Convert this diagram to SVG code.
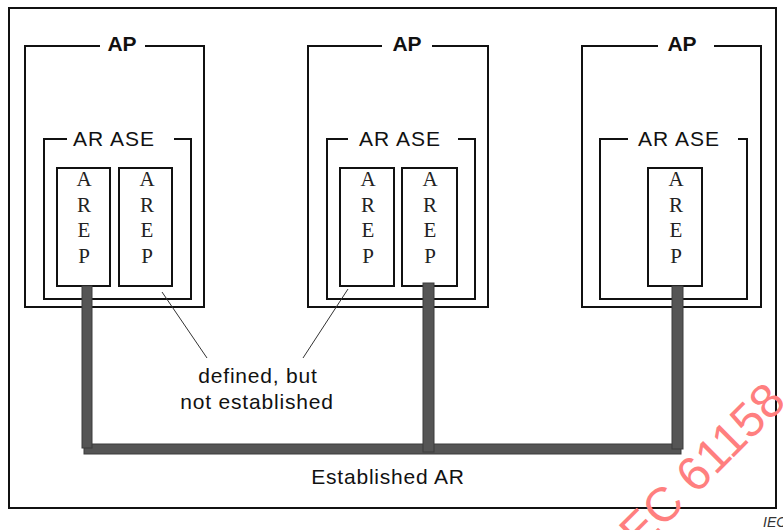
<svg xmlns="http://www.w3.org/2000/svg" width="783" height="530" viewBox="0 0 783 530">
<defs>
<style>
.frame{fill:none;stroke:#111;stroke-width:2}
.box{fill:#fff;stroke:#111;stroke-width:2}
.ln{stroke:#111;stroke-width:2;fill:none}
.ap{font-family:"Liberation Sans",Arial,sans-serif;font-weight:bold;font-size:21px;fill:#111;text-anchor:middle}
.ase{font-family:"Liberation Sans",Arial,sans-serif;font-size:21px;letter-spacing:1px;fill:#111;text-anchor:middle}
.arep{font-family:"Liberation Serif","Times New Roman",serif;font-size:21px;fill:#222;text-anchor:middle}
.lbl{font-family:"Liberation Sans",Arial,sans-serif;font-size:21px;letter-spacing:0.8px;fill:#111;text-anchor:middle}
.bar{fill:#555;stroke:#3c3c3c;stroke-width:1}
.lead{stroke:#333;stroke-width:1;fill:none}
</style>
</defs>
<rect x="0" y="0" width="783" height="530" fill="#fff"/>
<rect class="frame" x="9" y="8" width="767" height="500"/>

<g id="ap1">
<path class="ln" d="M100,46 H25 V307 H204 V46 H145"/>
<text class="ap" x="122" y="51">AP</text>
<g id="arase1">
<path class="ln" d="M67,139 H44 V299 H191 V139 H174"/>
<text class="ase" x="114" y="146">AR ASE</text>
</g>
<g id="arep1a">
<rect class="box" x="57" y="168" width="53" height="118"/>
<text class="arep"><tspan x="84" y="186">A</tspan><tspan x="84" y="212">R</tspan><tspan x="84" y="237">E</tspan><tspan x="84" y="263">P</tspan></text>
</g>
<g id="arep1b">
<rect class="box" x="119" y="168" width="53" height="118"/>
<text class="arep"><tspan x="147" y="186">A</tspan><tspan x="147" y="212">R</tspan><tspan x="147" y="237">E</tspan><tspan x="147" y="263">P</tspan></text>
</g>
</g>

<g id="ap2">
<path class="ln" d="M382,46 H308 V307 H488 V46 H432"/>
<text class="ap" x="407" y="51">AP</text>
<g id="arase2">
<path class="ln" d="M348,139 H327 V299 H475 V139 H458"/>
<text class="ase" x="400" y="146">AR ASE</text>
</g>
<g id="arep2a">
<rect class="box" x="340" y="168" width="54" height="118"/>
<text class="arep"><tspan x="368" y="186">A</tspan><tspan x="368" y="212">R</tspan><tspan x="368" y="237">E</tspan><tspan x="368" y="263">P</tspan></text>
</g>
<g id="arep2b">
<rect class="box" x="402" y="168" width="55" height="118"/>
<text class="arep"><tspan x="430" y="186">A</tspan><tspan x="430" y="212">R</tspan><tspan x="430" y="237">E</tspan><tspan x="430" y="263">P</tspan></text>
</g>
</g>

<g id="ap3">
<path class="ln" d="M658,46 H582 V307 H761 V46 H714"/>
<text class="ap" x="682" y="51">AP</text>
<g id="arase3">
<path class="ln" d="M628,139 H600 V299 H747 V139 H738"/>
<text class="ase" x="679" y="146">AR ASE</text>
</g>
<g id="arep3">
<rect class="box" x="648" y="168" width="54" height="118"/>
<text class="arep"><tspan x="676" y="186">A</tspan><tspan x="676" y="212">R</tspan><tspan x="676" y="237">E</tspan><tspan x="676" y="263">P</tspan></text>
</g>
</g>

<g id="connectors">
<rect class="bar" x="84" y="444" width="597" height="10"/>
<rect class="bar" x="82" y="286" width="10" height="162"/>
<rect class="bar" x="423" y="283" width="11" height="169"/>
<rect class="bar" x="672" y="286" width="11" height="163"/>
<line class="lead" x1="162" y1="292" x2="207" y2="358"/>
<line class="lead" x1="348" y1="289" x2="303" y2="358"/>
</g>

<g id="labels">
<text class="lbl" x="258" y="383">defined, but</text>
<text class="lbl" x="257" y="409">not established</text>
<text class="lbl" x="388" y="484">Established AR</text>
</g>

<text x="630" y="561" transform="rotate(-45 630 561)" font-family="Liberation Sans,Arial,sans-serif" font-size="48" fill="#ff7f7f">IEC 61158</text>
<text x="763" y="527" font-family="Liberation Sans,Arial,sans-serif" font-size="14" font-style="italic" fill="#333">IEC</text>
</svg>
